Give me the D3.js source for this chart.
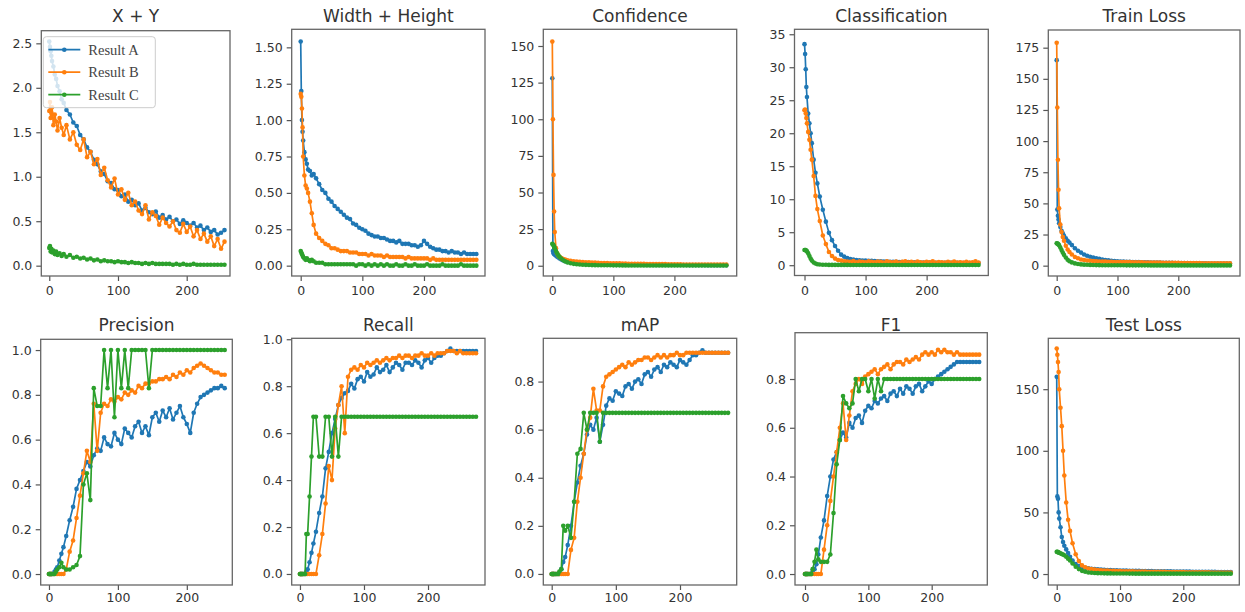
<!DOCTYPE html>
<html>
<head>
<meta charset="utf-8">
<script src="https://cdn.jsdelivr.net/npm/d3@7"></script>
<style>
	body { margin: 0; background: #fff; }
	svg { display: block; }
</style>
</head>
<body>
<div id="chart"></div>
<script>
var epochs = [0, 1, 2, 3, 4, 6, 8, 10, 12, 15, 18, 21,
	25, 30, 35, 40, 45, 50, 55, 60, 65, 70,
	75, 80, 85, 90, 95, 100, 105, 110, 115, 120,
	125, 130, 135, 140, 145, 150, 155, 160, 165, 170,
	175, 180, 185, 190, 195, 200, 205, 210, 215, 220,
	225, 230, 235, 240, 245, 250, 255, 260, 265, 270, 275, 280, 285];

var seriesNames = ["Result A", "Result B", "Result C"];
var seriesColors = ["#1f77b4", "#ff7f0e", "#2ca02c"];

var xTicks = [0, 100, 200];
var ticksXY = [0, 0.5, 1, 1.5, 2, 2.5];
var ticksWH = [0, 0.25, 0.5, 0.75, 1, 1.25, 1.5];
var ticksConf = [0, 25, 50, 75, 100, 125, 150];
var ticksCls = [0, 5, 10, 15, 20, 25, 30, 35];
var ticksTrain = [0, 25, 50, 75, 100, 125, 150, 175];
var ticksRate = [0, 0.2, 0.4, 0.6, 0.8, 1.0];
var ticksTest = [0, 50, 100, 150];

// X + Y
var xyA = [2.52, 2.46, 2.41, 2.36, 2.30, 2.24, 2.15, 2.10, 2.02, 1.96, 1.87, 1.83,
	1.75, 1.70, 1.61, 1.57, 1.47, 1.42, 1.33, 1.28, 1.19, 1.14,
	1.06, 1.03, 0.95, 0.93, 0.86, 0.85, 0.78, 0.80, 0.72, 0.74,
	0.68, 0.70, 0.62, 0.65, 0.60, 0.58, 0.61, 0.54, 0.57, 0.52,
	0.55, 0.50, 0.52, 0.47, 0.51, 0.48, 0.45, 0.48, 0.43, 0.45,
	0.40, 0.43, 0.38, 0.40, 0.35, 0.37, 0.40];
var xyB = [1.74, 1.84, 1.66, 1.72, 1.78, 1.58, 1.70, 1.62, 1.52, 1.66, 1.55, 1.47,
	1.58, 1.42, 1.50, 1.36, 1.30, 1.42, 1.22, 1.28, 1.14, 1.20,
	1.02, 1.10, 0.96, 0.88, 0.98, 0.80, 0.86, 0.74, 0.82, 0.68,
	0.72, 0.62, 0.58, 0.68, 0.52, 0.60, 0.56, 0.46, 0.54, 0.48,
	0.44, 0.50, 0.40, 0.37, 0.47, 0.38, 0.44, 0.33, 0.40, 0.30,
	0.36, 0.27, 0.33, 0.22, 0.30, 0.19, 0.27];
var xyC = [0.20, 0.22, 0.16, 0.19, 0.15, 0.17, 0.13, 0.16, 0.12, 0.14, 0.11, 0.13,
	0.10, 0.12, 0.09, 0.10, 0.08, 0.09, 0.07, 0.08, 0.06, 0.07,
	0.05, 0.06, 0.05, 0.05, 0.04, 0.05, 0.04, 0.04, 0.03, 0.04,
	0.03, 0.03, 0.02, 0.03, 0.02, 0.03, 0.02, 0.02, 0.02, 0.02,
	0.02, 0.01, 0.02, 0.01, 0.02, 0.01, 0.01, 0.02, 0.01, 0.01,
	0.01, 0.01, 0.01, 0.01, 0.01, 0.01, 0.01];

// Width + Height
var whA = [1.54, 1.20, 1.00, 0.92, 0.86, 0.78, 0.73, 0.70, 0.66, 0.65, 0.62, 0.63,
	0.60, 0.56, 0.52, 0.50, 0.46, 0.44, 0.41, 0.39, 0.37, 0.35,
	0.33, 0.32, 0.29, 0.28, 0.26, 0.25, 0.24, 0.22, 0.21, 0.20,
	0.20, 0.19, 0.19, 0.18, 0.17, 0.17, 0.16, 0.17, 0.15, 0.15,
	0.15, 0.14, 0.14, 0.13, 0.14, 0.17, 0.15, 0.13, 0.12, 0.11,
	0.11, 0.10, 0.10, 0.09, 0.10, 0.09, 0.09, 0.08, 0.09, 0.08, 0.08, 0.08, 0.08];
var whB = [1.18, 1.16, 1.08, 0.95, 0.75, 0.62, 0.55, 0.53, 0.50, 0.44, 0.36, 0.28,
	0.22, 0.19, 0.17, 0.15, 0.14, 0.12, 0.12, 0.11, 0.10, 0.10,
	0.10, 0.09, 0.09, 0.09, 0.08, 0.08, 0.08, 0.07, 0.08, 0.07,
	0.07, 0.07, 0.06, 0.07, 0.06, 0.06, 0.06, 0.06, 0.06, 0.05,
	0.06, 0.05, 0.05, 0.05, 0.05, 0.05, 0.05, 0.04, 0.05, 0.04,
	0.04, 0.04, 0.04, 0.04, 0.04, 0.04, 0.04, 0.04, 0.04, 0.04, 0.04, 0.04, 0.04];
var whC = [0.10, 0.09, 0.08, 0.07, 0.06, 0.05, 0.04, 0.05, 0.04, 0.03, 0.04, 0.03,
	0.02, 0.02, 0.02, 0.01, 0.01, 0.01, 0.01, 0.01, 0.01, 0.01,
	0.01, 0.01, 0.01, 0.00, 0.01, 0.01, 0.00, 0.01, 0.00, 0.01,
	0.00, 0.01, 0.00, 0.01, 0.00, 0.00, 0.01, 0.00, 0.00, 0.01,
	0.00, 0.00, 0.01, 0.00, 0.00, 0.00, 0.01, 0.00, 0.00, 0.00,
	0.00, 0.01, 0.00, 0.00, 0.00, 0.00, 0.00, 0.01, 0.00, 0.00, 0.00, 0.00, 0.00];

// Confidence
var confA = [128, 10, 8.5, 8.0, 7.5, 6.8, 6.2, 5.6, 5.0, 4.2, 3.6, 3.1,
	2.6, 2.2, 1.9, 1.7, 1.5, 1.4, 1.3, 1.2, 1.1, 1.0,
	0.95, 0.90, 0.88, 0.85, 0.82, 0.80, 0.78, 0.76, 0.74, 0.72,
	0.70, 0.68, 0.66, 0.65, 0.63, 0.62, 0.60, 0.59, 0.58, 0.57,
	0.55, 0.54, 0.53, 0.52, 0.51, 0.50, 0.49, 0.48, 0.47, 0.46,
	0.45, 0.45, 0.44, 0.44, 0.43, 0.43, 0.42, 0.42, 0.41, 0.41, 0.40, 0.40, 0.40];
var confB = [153, 100, 62, 37, 23, 12, 8.5, 7.0, 6.0, 5.2, 4.6, 4.2,
	3.8, 3.4, 3.1, 2.9, 2.7, 2.5, 2.4, 2.3, 2.2, 2.1,
	2.0, 1.9, 1.8, 1.8, 1.7, 1.7, 1.6, 1.6, 1.5, 1.5,
	1.4, 1.4, 1.4, 1.3, 1.3, 1.3, 1.2, 1.2, 1.2, 1.1,
	1.1, 1.1, 1.1, 1.0, 1.0, 1.0, 1.0, 1.0, 0.9, 0.9,
	0.9, 0.9, 0.9, 0.9, 0.9, 0.9, 0.9, 0.9, 0.9, 0.9, 0.9, 0.9, 0.9];
var confC = [15, 14.5, 14, 13, 12, 10, 8.5, 7.0, 6.0, 4.8, 3.8, 3.0,
	2.3, 1.7, 1.3, 1.0, 0.8, 0.7, 0.6, 0.5, 0.45, 0.4,
	0.35, 0.35, 0.3, 0.3, 0.3, 0.28, 0.27, 0.26, 0.25, 0.25,
	0.2, 0.2, 0.2, 0.2, 0.2, 0.2, 0.2, 0.2, 0.2, 0.2,
	0.2, 0.2, 0.2, 0.2, 0.2, 0.2, 0.2, 0.2, 0.2, 0.2,
	0.2, 0.2, 0.2, 0.2, 0.2, 0.2, 0.2, 0.2, 0.2, 0.2, 0.2, 0.2, 0.2];

// Classification
var clsA = [33.5, 32.0, 29.7, 27.0, 25.5, 23.0, 21.5, 20.0, 18.5, 16.0, 14.0, 12.4,
	10.4, 8.4, 6.6, 4.9, 3.8, 2.9, 2.2, 1.6, 1.3, 1.1,
	0.95, 0.86, 0.80, 0.76, 0.72, 0.70, 0.67, 0.65, 0.62, 0.60,
	0.58, 0.56, 0.55, 0.53, 0.52, 0.50, 0.49, 0.48, 0.47, 0.46,
	0.45, 0.44, 0.43, 0.42, 0.41, 0.40, 0.40, 0.39, 0.38, 0.38,
	0.37, 0.37, 0.36, 0.36, 0.35, 0.35, 0.35, 0.34, 0.34, 0.34, 0.33, 0.33, 0.33];
var clsB = [23.5, 23.6, 23.0, 22.3, 21.5, 20.2, 19.0, 17.5, 16.0, 13.5, 10.5, 8.5,
	6.7, 4.5, 3.2, 2.0, 1.4, 1.0, 0.8, 0.7, 0.6, 0.55,
	0.50, 0.62, 0.45, 0.55, 0.50, 0.45, 0.60, 0.50, 0.45, 0.55,
	0.50, 0.42, 0.58, 0.48, 0.45, 0.55, 0.42, 0.50, 0.60, 0.45,
	0.50, 0.42, 0.55, 0.45, 0.40, 0.52, 0.45, 0.60, 0.42, 0.48,
	0.45, 0.40, 0.50, 0.42, 0.55, 0.40, 0.45, 0.42, 0.50, 0.40, 0.45, 0.60, 0.42];
var clsC = [2.3, 2.3, 2.3, 2.2, 2.1, 1.8, 1.4, 1.0, 0.7, 0.4, 0.25, 0.15,
	0.10, 0.08, 0.06, 0.05, 0.05, 0.05, 0.05, 0.05, 0.05, 0.05,
	0.04, 0.04, 0.04, 0.04, 0.04, 0.04, 0.04, 0.04, 0.04, 0.04,
	0.04, 0.04, 0.04, 0.04, 0.04, 0.04, 0.04, 0.04, 0.04, 0.04,
	0.04, 0.04, 0.04, 0.04, 0.04, 0.04, 0.04, 0.04, 0.04, 0.04,
	0.04, 0.04, 0.04, 0.04, 0.04, 0.04, 0.04, 0.04, 0.04, 0.04, 0.04, 0.04, 0.04];

// Train Loss
var trainA = [165, 45, 40, 37, 34, 31, 28, 26, 24, 22, 20, 18.5,
	16.5, 14, 12, 10.5, 9, 8, 7.2, 6.5, 6, 5.5,
	5.0, 4.6, 4.3, 4.0, 3.8, 3.6, 3.4, 3.3, 3.2, 3.1,
	3.0, 2.9, 2.8, 2.7, 2.7, 2.6, 2.5, 2.5, 2.4, 2.4,
	2.3, 2.3, 2.2, 2.2, 2.1, 2.1, 2.0, 2.0, 2.0, 1.9,
	1.9, 1.9, 1.8, 1.8, 1.8, 1.7, 1.7, 1.7, 1.7, 1.6, 1.6, 1.6, 1.6];
var trainB = [179, 127, 85, 61, 46, 33, 27, 23, 20, 16, 13, 11,
	9, 7, 6, 5, 4.6, 4.2, 4.0, 3.8, 3.6, 3.4,
	3.3, 3.3, 3.2, 3.1, 3.0, 3.0, 2.9, 2.9, 2.8, 2.8,
	2.7, 2.7, 2.6, 2.6, 2.5, 2.5, 2.5, 2.4, 2.4, 2.4,
	2.3, 2.3, 2.3, 2.2, 2.2, 2.2, 2.1, 2.1, 2.1, 2.0,
	2.0, 2.0, 2.0, 1.9, 1.9, 1.9, 1.9, 1.8, 1.8, 1.8, 1.8, 1.8, 1.8];
var trainC = [18, 17.8, 17.5, 17, 16.3, 14.5, 12.5, 10.5, 8.7, 6.5, 4.8, 3.6,
	2.6, 1.8, 1.3, 1.0, 0.8, 0.7, 0.6, 0.5, 0.45, 0.4,
	0.35, 0.35, 0.3, 0.3, 0.3, 0.3, 0.28, 0.28, 0.26, 0.26,
	0.25, 0.25, 0.25, 0.24, 0.24, 0.24, 0.23, 0.23, 0.23, 0.22,
	0.22, 0.22, 0.22, 0.21, 0.21, 0.21, 0.21, 0.2, 0.2, 0.2,
	0.2, 0.2, 0.2, 0.2, 0.2, 0.2, 0.2, 0.2, 0.2, 0.2, 0.2, 0.2, 0.2];

// Precision
var precA = [0, 0, 0, 0, 0, 0, 0.01, 0.02, 0.03, 0.06, 0.09, 0.12,
	0.17, 0.24, 0.30, 0.38, 0.42, 0.46, 0.50, 0.48, 0.53, 0.56,
	0.55, 0.61, 0.58, 0.57, 0.63, 0.60, 0.58, 0.65, 0.63, 0.61,
	0.66, 0.68, 0.63, 0.66, 0.62, 0.70, 0.72, 0.68, 0.73, 0.70,
	0.74, 0.69, 0.72, 0.75, 0.70, 0.67, 0.63, 0.72, 0.76, 0.79,
	0.80, 0.81, 0.82, 0.83, 0.83, 0.84, 0.83];
var precB = [0, 0, 0, 0, 0, 0, 0, 0, 0, 0, 0, 0,
	0.02, 0.10, 0.15, 0.25, 0.35, 0.45, 0.55, 0.50, 0.76, 0.55,
	0.72, 0.76, 0.75, 0.78, 0.77, 0.79, 0.78, 0.81, 0.80, 0.82,
	0.81, 0.84, 0.83, 0.85, 0.85, 0.86, 0.86, 0.87, 0.87, 0.88,
	0.87, 0.89, 0.88, 0.90, 0.89, 0.91, 0.90, 0.92, 0.93, 0.94,
	0.93, 0.92, 0.91, 0.90, 0.90, 0.89, 0.89];
var precC = [0, 0, 0, 0, 0, 0, 0, 0.01, 0.02, 0.03, 0.05, 0.03,
	0.02, 0.02, 0.03, 0.04, 0.08, 0.40, 0.45, 0.33, 0.83, 0.75,
	0.75, 1.0, 0.83, 1.0, 0.70, 1.0, 0.83, 1.0, 0.83, 1.0,
	1.0, 1.0, 1.0, 1.0, 0.83, 1.0, 1.0, 1.0, 1.0, 1.0,
	1.0, 1.0, 1.0, 1.0, 1.0, 1.0, 1.0, 1.0, 1.0, 1.0,
	1.0, 1.0, 1.0, 1.0, 1.0, 1.0, 1.0];

// Recall
var recA = [0, 0, 0, 0, 0, 0, 0, 0.01, 0.02, 0.05, 0.09, 0.13,
	0.18, 0.26, 0.33, 0.45, 0.52, 0.60, 0.66, 0.72, 0.75, 0.77,
	0.78, 0.81, 0.79, 0.83, 0.84, 0.82, 0.86, 0.84, 0.85, 0.88,
	0.86, 0.87, 0.89, 0.86, 0.88, 0.90, 0.89, 0.87, 0.90, 0.90,
	0.89, 0.91, 0.90, 0.88, 0.91, 0.92, 0.90, 0.92, 0.93, 0.93,
	0.94, 0.95, 0.96, 0.95, 0.95, 0.95, 0.95, 0.95, 0.95, 0.95, 0.95];
var recB = [0, 0, 0, 0, 0, 0, 0, 0, 0, 0, 0, 0,
	0.0, 0.08, 0.17, 0.30, 0.46, 0.40, 0.62, 0.72, 0.80, 0.60,
	0.84, 0.87, 0.88, 0.87, 0.89, 0.88, 0.90, 0.89, 0.90, 0.91,
	0.90, 0.91, 0.92, 0.91, 0.92, 0.92, 0.93, 0.92, 0.93, 0.93,
	0.92, 0.93, 0.93, 0.94, 0.93, 0.93, 0.94, 0.93, 0.94, 0.94,
	0.94, 0.95, 0.95, 0.95, 0.94, 0.95, 0.94, 0.94, 0.94, 0.94, 0.94];
var recC = [0, 0, 0, 0, 0, 0, 0, 0.17, 0.17, 0.33, 0.50, 0.67,
	0.67, 0.50, 0.50, 0.67, 0.67, 0.50, 0.67, 0.50, 0.67, 0.67,
	0.67, 0.67, 0.67, 0.67, 0.67, 0.67, 0.67, 0.67, 0.67, 0.67,
	0.67, 0.67, 0.67, 0.67, 0.67, 0.67, 0.67, 0.67, 0.67, 0.67,
	0.67, 0.67, 0.67, 0.67, 0.67, 0.67, 0.67, 0.67, 0.67, 0.67,
	0.67, 0.67, 0.67, 0.67, 0.67, 0.67, 0.67, 0.67, 0.67, 0.67, 0.67];

// mAP
var mapA = [0, 0, 0, 0, 0, 0, 0, 0, 0, 0.02, 0.05, 0.07,
	0.12, 0.20, 0.30, 0.38, 0.45, 0.50, 0.58, 0.62, 0.60, 0.65,
	0.55, 0.62, 0.70, 0.73, 0.72, 0.76, 0.75, 0.74, 0.78, 0.79,
	0.77, 0.80, 0.81, 0.79, 0.83, 0.84, 0.82, 0.85, 0.86, 0.84,
	0.87, 0.86, 0.88, 0.87, 0.86, 0.89, 0.88, 0.87, 0.89, 0.91,
	0.91, 0.92, 0.93, 0.92, 0.92, 0.92, 0.92, 0.92, 0.92, 0.92, 0.92];
var mapB = [0, 0, 0, 0, 0, 0, 0, 0, 0, 0, 0, 0,
	0.0, 0.10, 0.15, 0.30, 0.40, 0.50, 0.60, 0.65, 0.77, 0.68,
	0.68, 0.78, 0.82, 0.83, 0.84, 0.85, 0.86, 0.87, 0.86, 0.88,
	0.87, 0.88, 0.89, 0.89, 0.90, 0.90, 0.89, 0.90, 0.91, 0.90,
	0.91, 0.90, 0.91, 0.91, 0.92, 0.91, 0.91, 0.92, 0.92, 0.92,
	0.92, 0.92, 0.92, 0.92, 0.92, 0.92, 0.92, 0.92, 0.92, 0.92, 0.92];
var mapC = [0, 0, 0, 0, 0, 0, 0, 0, 0.01, 0.02, 0.20, 0.18,
	0.20, 0.15, 0.30, 0.50, 0.52, 0.67, 0.60, 0.67, 0.67, 0.67,
	0.55, 0.67, 0.67, 0.67, 0.67, 0.67, 0.67, 0.67, 0.67, 0.67,
	0.67, 0.67, 0.67, 0.67, 0.67, 0.67, 0.67, 0.67, 0.67, 0.67,
	0.67, 0.67, 0.67, 0.67, 0.67, 0.67, 0.67, 0.67, 0.67, 0.67,
	0.67, 0.67, 0.67, 0.67, 0.67, 0.67, 0.67, 0.67, 0.67, 0.67, 0.67];

// F1
var f1A = [0, 0, 0, 0, 0, 0, 0, 0, 0.01, 0.02, 0.04, 0.08,
	0.15, 0.22, 0.32, 0.40, 0.47, 0.50, 0.55, 0.58, 0.56, 0.62,
	0.60, 0.64, 0.65, 0.62, 0.67, 0.69, 0.68, 0.71, 0.70, 0.72,
	0.73, 0.71, 0.74, 0.75, 0.73, 0.76, 0.74, 0.77, 0.76, 0.74,
	0.77, 0.78, 0.75, 0.77, 0.79, 0.78, 0.80, 0.81, 0.82, 0.83,
	0.84, 0.85, 0.86, 0.87, 0.87, 0.87, 0.87, 0.87, 0.87, 0.87, 0.87];
var f1B = [0, 0, 0, 0, 0, 0, 0, 0, 0, 0, 0, 0,
	0.0, 0.10, 0.20, 0.30, 0.40, 0.50, 0.60, 0.70, 0.55, 0.65,
	0.75, 0.78, 0.80, 0.78, 0.81, 0.82, 0.83, 0.84, 0.82, 0.84,
	0.85, 0.86, 0.84, 0.86, 0.87, 0.87, 0.86, 0.88, 0.87, 0.88,
	0.89, 0.88, 0.90, 0.91, 0.90, 0.91, 0.90, 0.92, 0.91, 0.92,
	0.91, 0.91, 0.90, 0.91, 0.90, 0.90, 0.90, 0.90, 0.90, 0.90, 0.90];
var f1C = [0, 0, 0, 0, 0, 0, 0, 0, 0.02, 0.05, 0.10, 0.06,
	0.05, 0.05, 0.05, 0.08, 0.25, 0.45, 0.55, 0.73, 0.70, 0.68,
	0.70, 0.80, 0.75, 0.80, 0.80, 0.75, 0.80, 0.72, 0.80, 0.75,
	0.80, 0.80, 0.80, 0.80, 0.80, 0.80, 0.80, 0.80, 0.80, 0.80,
	0.80, 0.80, 0.80, 0.80, 0.80, 0.80, 0.80, 0.80, 0.80, 0.80,
	0.80, 0.80, 0.80, 0.80, 0.80, 0.80, 0.80, 0.80, 0.80, 0.80, 0.80];

// Test Loss
var testA = [160, 63, 61, 50, 45, 38, 30, 26, 23, 20, 17, 14,
	11, 8, 6.5, 5.5, 5.0, 4.6, 4.2, 4.0, 3.8, 3.6,
	3.4, 3.3, 3.2, 3.1, 3.0, 2.9, 2.8, 2.8, 2.7, 2.7,
	2.6, 2.6, 2.5, 2.5, 2.4, 2.4, 2.3, 2.3, 2.3, 2.2,
	2.2, 2.2, 2.1, 2.1, 2.1, 2.0, 2.0, 2.0, 1.9, 1.9,
	1.9, 1.9, 1.8, 1.8, 1.8, 1.8, 1.7, 1.7, 1.7, 1.7, 1.6];
var testB = [183, 178, 172, 164, 150, 135, 120, 100, 80, 58, 44, 35,
	25, 16, 10.5, 7, 5.5, 4.5, 4.0, 3.6, 3.3, 3.1,
	2.9, 2.8, 2.7, 2.6, 2.5, 2.4, 2.3, 2.3, 2.2, 2.2,
	2.1, 2.1, 2.0, 2.0, 1.9, 1.9, 1.9, 1.8, 1.8, 1.8,
	1.7, 1.7, 1.7, 1.6, 1.6, 1.6, 1.5, 1.5, 1.5, 1.5,
	1.4, 1.4, 1.4, 1.4, 1.3, 1.3, 1.3, 1.3, 1.3, 1.2, 1.2];
var testC = [18, 18, 17.8, 17.5, 17.2, 16.8, 16.3, 15.8, 15.2, 14, 12.5, 11,
	8.5, 6, 4, 2.6, 1.8, 1.3, 1.0, 0.8, 0.7, 0.6,
	0.55, 0.5, 0.5, 0.45, 0.45, 0.4, 0.4, 0.4, 0.35, 0.35,
	0.3, 0.3, 0.3, 0.3, 0.3, 0.3, 0.3, 0.3, 0.3, 0.3,
	0.3, 0.3, 0.3, 0.3, 0.3, 0.3, 0.3, 0.3, 0.3, 0.3,
	0.3, 0.3, 0.3, 0.3, 0.3, 0.3, 0.3, 0.3, 0.3, 0.3, 0.3];

// box = [left, top, right, bottom] in px
var panels = [
	{ title: "X + Y", series: [xyA, xyB, xyC], yTicks: ticksXY, fmt: ".1f", row: 0,
		box: [41.3, 30.7, 230, 276], xDomain: [-11.6, 263], yDomain: [-0.116, 2.642], legend: true },
	{ title: "Width + Height", series: [whA, whB, whC], yTicks: ticksWH, fmt: ".2f", row: 0,
		box: [291.7, 29.3, 485, 276], xDomain: [-14.6, 299], yDomain: [-0.071, 1.624] },
	{ title: "Confidence", series: [confA, confB, confC], yTicks: ticksConf, fmt: "d", row: 0,
		box: [543.3, 29.3, 736.7, 276], xDomain: [-14.75, 302], yDomain: [-7.0, 161.4] },
	{ title: "Classification", series: [clsA, clsB, clsC], yTicks: ticksCls, fmt: "d", row: 0,
		box: [794.5, 29.3, 988.3, 275.5], xDomain: [-16.4, 301], yDomain: [-1.56, 35.75] },
	{ title: "Train Loss", series: [trainA, trainB, trainC], yTicks: ticksTrain, fmt: "d", row: 0,
		box: [1048.3, 30, 1240, 276], xDomain: [-13.8, 301.5], yDomain: [-8.3, 189.2] },
	{ title: "Precision", series: [precA, precB, precC], yTicks: ticksRate, fmt: ".1f", row: 1,
		box: [40.7, 339.3, 232.3, 585], xDomain: [-12, 266], yDomain: [-0.049, 1.048] },
	{ title: "Recall", series: [recA, recB, recC], yTicks: ticksRate, fmt: ".1f", row: 1,
		box: [291.7, 338.3, 485, 585], xDomain: [-12.9, 289], yDomain: [-0.047, 1.004] },
	{ title: "mAP", series: [mapA, mapB, mapC], yTicks: ticksRate, fmt: ".1f", row: 1,
		box: [543.3, 338.3, 736.7, 585], xDomain: [-13.1, 288.4], yDomain: [-0.046, 0.98] },
	{ title: "F1", series: [f1A, f1B, f1C], yTicks: ticksRate, fmt: ".1f", row: 1,
		box: [795, 332.7, 987.3, 585], xDomain: [-15.8, 287.8], yDomain: [-0.045, 0.99] },
	{ title: "Test Loss", series: [testA, testB, testC], yTicks: ticksTest, fmt: "d", row: 1,
		box: [1048.3, 338.3, 1239.3, 585], xDomain: [-13.3, 288.5], yDomain: [-8.9, 191.3] }
];

var titleY = [22, 331];
var xLabelPad = [5.5, 3.5];
var tickFont = "'DejaVu Sans', sans-serif";

var svg = d3.select("#chart").append("svg")
	.attr("width", 1245)
	.attr("height", 612);

panels.forEach(function(p, idx) {
	drawPanel(svg, p, idx);
});

function drawPanel(svg, p, idx) {
	var left = p.box[0], top = p.box[1], right = p.box[2], bottom = p.box[3];

	var x = d3.scaleLinear().domain(p.xDomain).range([left, right]);
	var y = d3.scaleLinear().domain(p.yDomain).range([bottom, top]);

	var clipId = "clip" + idx;
	svg.append("clipPath").attr("id", clipId)
	  .append("rect")
		.attr("x", left)
		.attr("y", top)
		.attr("width", right - left)
		.attr("height", bottom - top);

	var plot = svg.append("g").attr("clip-path", "url(#" + clipId + ")");

	var line = d3.line()
		.x(function(d) { return x(d[0]); })
		.y(function(d) { return y(d[1]); });

	p.series.forEach(function(vals, i) {
		var pts = vals.map(function(v, k) { return [epochs[k], v]; });

		plot.append("path")
			.datum(pts)
			.attr("d", line)
			.attr("fill", "none")
			.attr("stroke", seriesColors[i])
			.attr("stroke-width", 1.7)
			.attr("stroke-linejoin", "round");

		plot.append("g").selectAll("circle")
			.data(pts)
			.join("circle")
			.attr("cx", function(d) { return x(d[0]); })
			.attr("cy", function(d) { return y(d[1]); })
			.attr("r", 2.3)
			.attr("fill", seriesColors[i]);
	});

	var yTickVals = p.yTicks.filter(function(t) { return t >= p.yDomain[0] && t <= p.yDomain[1]; });

	var gx = svg.append("g")
		.attr("transform", "translate(0," + bottom + ")")
		.call(d3.axisBottom(x).tickValues(xTicks).tickSize(5).tickPadding(xLabelPad[p.row]).tickFormat(d3.format("d")));

	var gy = svg.append("g")
		.attr("transform", "translate(" + left + ",0)")
		.call(d3.axisLeft(y).tickValues(yTickVals).tickSize(5).tickPadding(4).tickFormat(d3.format(p.fmt)));

	[gx, gy].forEach(function(g) {
		g.select(".domain").remove();
		g.attr("font-family", tickFont).attr("font-size", 12.5);
		g.selectAll(".tick line").attr("stroke", "#555").attr("stroke-width", 1.2);
		g.selectAll(".tick text").attr("fill", "#333");
	});

	svg.append("rect")
		.attr("x", left)
		.attr("y", top)
		.attr("width", right - left)
		.attr("height", bottom - top)
		.attr("fill", "none")
		.attr("stroke", "#666")
		.attr("stroke-width", 1.3);

	svg.append("text")
		.attr("x", (left + right) / 2)
		.attr("y", titleY[p.row])
		.attr("text-anchor", "middle")
		.attr("font-family", tickFont)
		.attr("font-size", 17)
		.attr("fill", "#333")
		.text(p.title);

	if (p.legend) addLegend(svg, left, top);
}

function addLegend(svg, left, top) {
	var lg = svg.append("g").attr("transform", "translate(" + (left + 2) + "," + (top + 6) + ")");

	lg.append("rect")
		.attr("x", 0)
		.attr("y", 0)
		.attr("width", 112)
		.attr("height", 71)
		.attr("rx", 3)
		.attr("fill", "#fff")
		.attr("fill-opacity", 0.8)
		.attr("stroke", "#ccc")
		.attr("stroke-width", 1);

	seriesNames.forEach(function(name, i) {
		var ly = 13 + i * 22.5;
		lg.append("line")
			.attr("x1", 5).attr("x2", 37)
			.attr("y1", ly).attr("y2", ly)
			.attr("stroke", seriesColors[i])
			.attr("stroke-width", 1.7);
		lg.append("circle")
			.attr("cx", 21).attr("cy", ly).attr("r", 2.3)
			.attr("fill", seriesColors[i]);
		lg.append("text")
			.attr("x", 45)
			.attr("y", ly)
			.attr("dy", "0.35em")
			.attr("font-family", "'Liberation Serif', 'Times New Roman', serif")
			.attr("font-size", 14.5)
			.attr("fill", "#444")
			.text(name);
	});
}
</script>
</body>
</html>
